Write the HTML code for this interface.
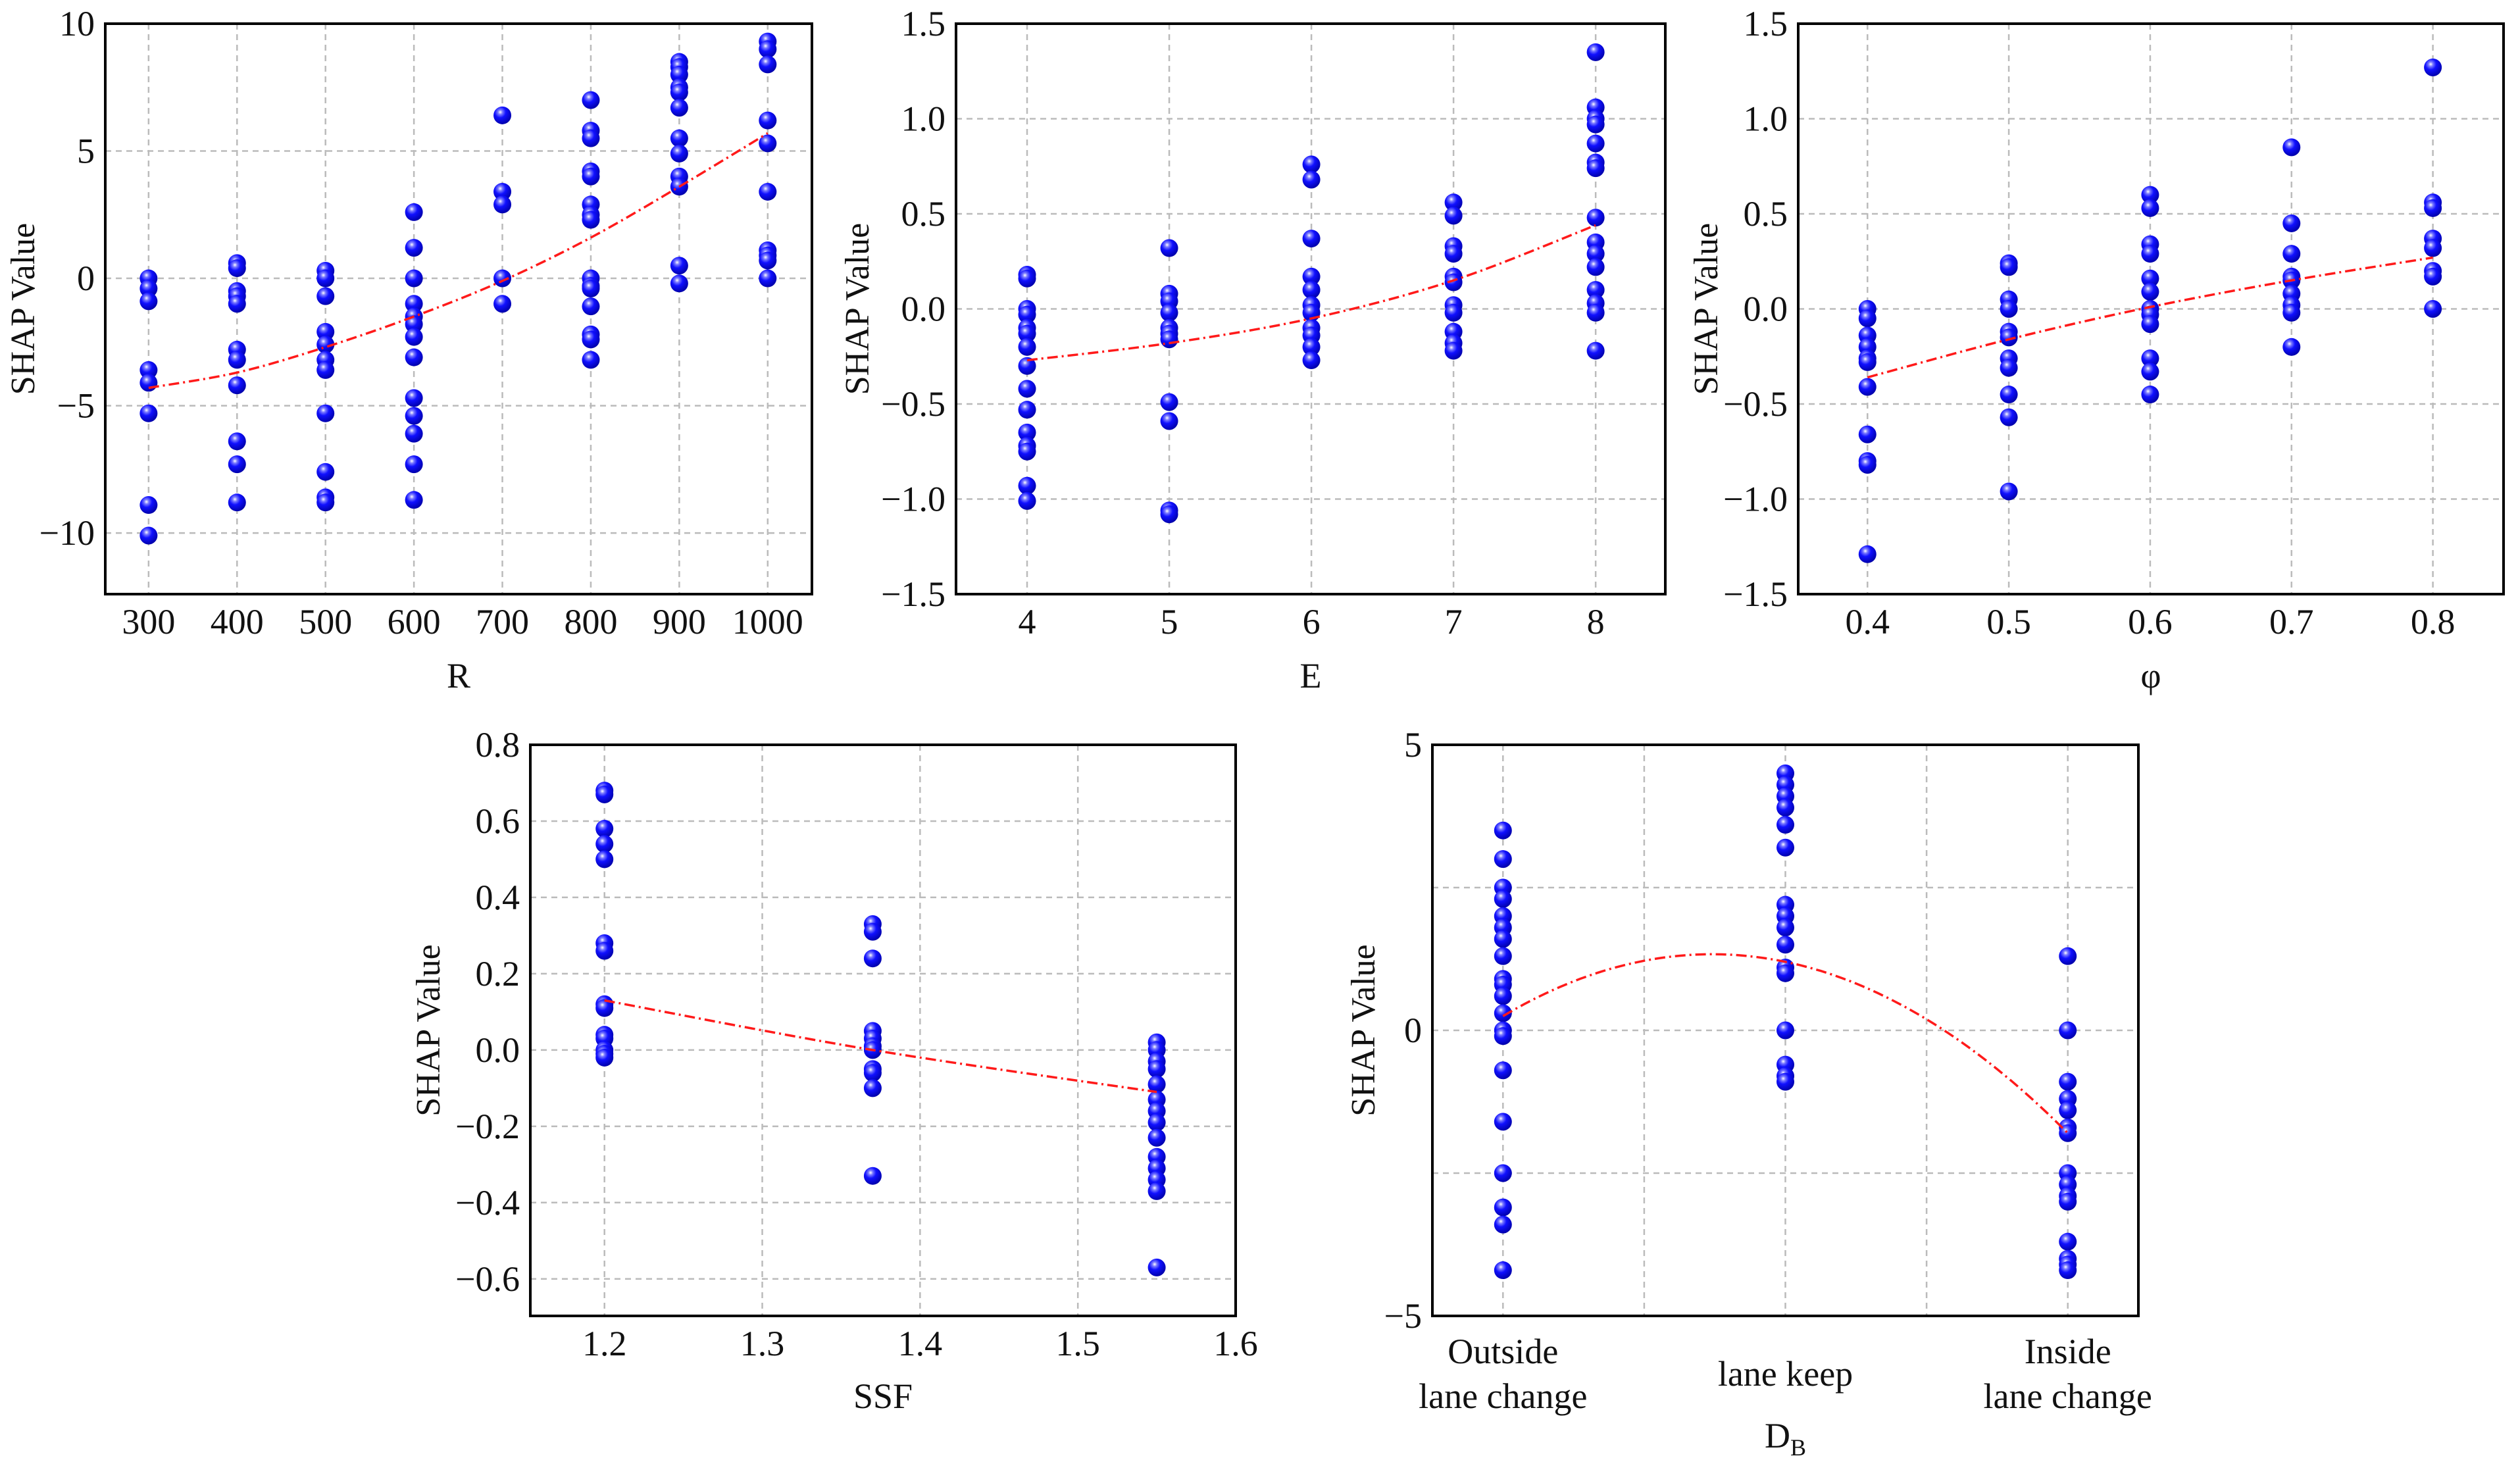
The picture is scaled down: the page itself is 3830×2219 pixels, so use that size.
<!DOCTYPE html>
<html><head><meta charset="utf-8">
<style>
html,body{margin:0;padding:0;background:#fff;}
svg{display:block;}
svg text{font-family:"Liberation Serif","Times New Roman",serif;}
</style></head>
<body>
<svg id="chart" width="3830" height="2219" viewBox="0 0 3830 2219" xmlns="http://www.w3.org/2000/svg" font-family="Liberation Serif, serif">
<defs>
<radialGradient id="ball" cx="0.38" cy="0.32" r="0.7">
<stop offset="0" stop-color="#ffffff"/>
<stop offset="0.18" stop-color="#7a7aff"/>
<stop offset="0.45" stop-color="#1010ff"/>
<stop offset="1" stop-color="#0000a8"/>
</radialGradient>
</defs>
</svg>
<script>
// ---------- Panel R ----------
const rCats = [300,400,500,600,700,800,900,1000];
const rVals = [
 [0,-0.4,-0.9,-3.6,-4.1,-5.3,-8.9,-10.1],
 [0.6,0.4,-0.5,-0.7,-1.0,-2.8,-3.2,-4.2,-6.4,-7.3,-8.8],
 [0.3,0,-0.7,-2.1,-2.6,-3.2,-3.6,-5.3,-7.6,-8.6,-8.8],
 [2.6,1.2,0,-1.0,-1.5,-1.8,-2.3,-3.1,-4.7,-5.4,-6.1,-7.3,-8.7],
 [6.4,3.4,2.9,0,-1.0],
 [7.0,5.8,5.5,4.2,4.0,2.9,2.5,2.3,0,-0.3,-0.4,-1.1,-2.2,-2.4,-3.2],
 [8.5,8.3,8.0,7.5,7.3,6.7,5.5,4.9,4.0,3.6,0.5,-0.2],
 [9.3,9.0,8.4,6.2,5.3,3.4,1.1,0.9,0.7,0]
];
const rTrend = [-4.3,-3.7,-2.7,-1.5,-0.1,1.6,3.6,5.7];
const rXTicks = ["300","400","500","600","700","800","900","1000"];
const rYTicks = ["10","5","0","\u22125","\u221210"];

// ---------- Panel E ----------
const eCats = [4,5,6,7,8];
const eVals = [
 [0.18,0.16,0.0,-0.03,-0.1,-0.13,-0.2,-0.3,-0.42,-0.53,-0.65,-0.72,-0.75,-0.93,-1.01],
 [0.32,0.08,0.04,-0.02,-0.1,-0.13,-0.16,-0.49,-0.59,-1.06,-1.08],
 [0.76,0.68,0.37,0.17,0.1,0.02,-0.02,-0.1,-0.14,-0.2,-0.27],
 [0.56,0.49,0.33,0.29,0.17,0.14,0.02,-0.02,-0.12,-0.18,-0.22],
 [1.35,1.06,1.0,0.97,0.87,0.77,0.74,0.48,0.35,0.29,0.22,0.1,0.03,-0.02,-0.22]
];
const eTrend = [-0.27,-0.18,-0.05,0.15,0.44];
const eXTicks = ["4","5","6","7","8"];
const eYTicks = ["1.5","1.0","0.5","0.0","\u22120.5","\u22121.0","\u22121.5"];

// ---------- Panel phi ----------
const pCats = [0.4,0.5,0.6,0.7,0.8];
const pVals = [
 [0,-0.05,-0.14,-0.2,-0.26,-0.28,-0.41,-0.66,-0.8,-0.82,-1.29],
 [0.24,0.22,0.05,0.0,-0.12,-0.15,-0.26,-0.31,-0.45,-0.57,-0.96],
 [0.6,0.53,0.34,0.29,0.16,0.09,0.0,-0.03,-0.08,-0.26,-0.33,-0.45],
 [0.85,0.45,0.29,0.17,0.15,0.08,0.02,-0.02,-0.2],
 [1.27,0.56,0.53,0.37,0.32,0.2,0.17,0.0]
];
const pTrend = [-0.36,-0.16,0.01,0.15,0.27];
const pXTicks = ["0.4","0.5","0.6","0.7","0.8"];
const pYTicks = eYTicks;

// ---------- Panel SSF ----------
const sCats = [1.2,1.37,1.55];
const sVals = [
 [0.68,0.67,0.58,0.54,0.5,0.28,0.26,0.12,0.11,0.04,0.03,0.0,-0.01,-0.02],
 [0.33,0.31,0.24,0.05,0.03,0.01,0.0,-0.05,-0.06,-0.1,-0.33],
 [0.02,0.0,-0.03,-0.05,-0.09,-0.13,-0.16,-0.19,-0.23,-0.28,-0.31,-0.34,-0.37,-0.57]
];
const sTrend = [0.13,0.0,-0.11];
const sXTicks = ["1.2","1.3","1.4","1.5","1.6"];
const sYTicks = ["0.8","0.6","0.4","0.2","0.0","\u22120.2","\u22120.4","\u22120.6"];

// ---------- Panel DB ----------
const dCats = [0,1,2];
const dVals = [
 [3.5,3.0,2.5,2.3,2.0,1.8,1.6,1.3,0.9,0.8,0.6,0.3,0,-0.1,-0.7,-1.6,-2.5,-3.1,-3.4,-4.2],
 [4.5,4.3,4.1,3.9,3.6,3.2,2.2,2.0,1.8,1.5,1.1,1.0,0,-0.6,-0.8,-0.9],
 [1.3,0,-0.9,-1.2,-1.4,-1.7,-1.8,-2.5,-2.7,-2.9,-3.0,-3.7,-4.0,-4.1,-4.2]
];
const dTrend = [0.25,1.2,-1.8];
const dYTicks = ["5","0","\u22125"];

const svg = document.getElementById('chart');
const NS = 'http://www.w3.org/2000/svg';
function mk(tag, attrs, parent){
  const e = document.createElementNS(NS, tag);
  for (const k in attrs) e.setAttribute(k, attrs[k]);
  (parent||svg).appendChild(e);
  return e;
}
function txt(s, x, y, size, anchor, parent){
  const t = mk('text', {x:x, y:y, 'font-size':size, 'text-anchor':anchor||'middle', fill:'#111', 'font-family':'Liberation Serif, serif'}, parent);
  t.textContent = s;
  return t;
}

function panel(o){
  const g = mk('g', {});
  
  
  const sx = v => o.L + (v - o.x0) / (o.x1 - o.x0) * (o.R - o.L);
  const sy = v => o.B - (v - o.y0) / (o.y1 - o.y0) * (o.B - o.T);
  const grid = mk('g', {stroke:'#bbbbbb', 'stroke-width':2.5, 'stroke-dasharray':'9 7'}, g);
  
  
  o.xGrid.forEach(v => mk('line', {x1:sx(v), x2:sx(v), y1:o.T, y2:o.B}, grid));
  o.yGrid.forEach(v => mk('line', {x1:o.L, x2:o.R, y1:sy(v), y2:sy(v)}, grid));
  const xt = mk('g', {}, g);
  
  
  o.xTickVals.forEach((v,i) => {
    const lab = o.xTickLabels[i];
    if (Array.isArray(lab)) {
      const off = (lab.length === 1) ? 34 : 0;
      lab.forEach((line,j) => txt(line, sx(v), o.B + o.xtOff + off + j*68, 54, 'middle', xt));
    } else txt(lab, sx(v), o.B + o.xtOff, 54, 'middle', xt);
  });
  const yt = mk('g', {}, g);
  
  
  o.yTickVals.forEach((v,i) => txt(o.yTickLabels[i], o.L - 16, sy(v) + 18, 54, 'end', yt));
  const xl = txt(o.xLabel, (o.L+o.R)/2, o.xlY, 54, 'middle', g);
  
  
  if (o.sub) { const s = mk('tspan', {'font-size':36, dy:12}, xl); s.textContent = o.sub; }
  const cy = (o.T+o.B)/2;
  const yl = txt('SHAP Value', o.ylX, cy, 52, 'middle', g);
  yl.setAttribute('transform', `rotate(-90 ${o.ylX} ${cy})`);
  
  
  const pts = mk('g', {}, g);
  
  
  o.cats.forEach((c,i) => o.vals[i].forEach(v => {
    const p = mk('circle', {cx:sx(c), cy:sy(v), r:13.5, fill:'url(#ball)'}, pts);
    
    
  }));
  let d = '';
  if (o.quad) {
    const [f0,f1,f2] = o.trend;
    const c0 = f0, a = (f2 - 2*f1 + f0)/2, b = f1 - f0 - a;
    for (let k=0;k<=80;k++){ const x = o.cats[0] + (o.cats[2]-o.cats[0])*k/80; d += (k?'L':'M') + sx(x).toFixed(1) + ' ' + sy(a*x*x+b*x+c0).toFixed(1); }
  } else {
    const P = o.cats.map((c,i)=>[sx(c), sy(o.trend[i])]);
    d = 'M' + P[0][0] + ' ' + P[0][1];
    for (let i=0;i<P.length-1;i++){
      const p0 = P[Math.max(0,i-1)], p1 = P[i], p2 = P[i+1], p3 = P[Math.min(P.length-1,i+2)];
      d += ` C${p1[0]+(p2[0]-p0[0])/6} ${p1[1]+(p2[1]-p0[1])/6} ${p2[0]-(p3[0]-p1[0])/6} ${p2[1]-(p3[1]-p1[1])/6} ${p2[0]} ${p2[1]}`;
    }
  }
  const tr = mk('path', {d:d, fill:'none', stroke:'#ff1a1a', 'stroke-width':3.5, 'stroke-dasharray':'16 6 3 6'}, g);
  
  
  const fr = mk('rect', {x:o.L, y:o.T, width:o.R-o.L, height:o.B-o.T, fill:'none', stroke:'#000', 'stroke-width':4}, g);
  
  
}

const num = a => a.map(s => parseFloat(s.replace('\u2212','-')));

panel({name:'panel-r', L:160, R:1234, T:36, B:903, x0:251, x1:1050, y0:-12.4, y1:10,
  cats:rCats, vals:rVals, trend:rTrend, xGrid:rCats, yGrid:num(rYTicks),
  xTickVals:rCats, xTickLabels:rXTicks, yTickVals:num(rYTicks), yTickLabels:rYTicks,
  xtOff:60, xLabel:'R', xlY:1045, ylX:52});
panel({name:'panel-e', L:1453, R:2531, T:36, B:903, x0:3.5, x1:8.49, y0:-1.5, y1:1.5,
  cats:eCats, vals:eVals, trend:eTrend, xGrid:eCats, yGrid:num(eYTicks),
  xTickVals:eCats, xTickLabels:eXTicks, yTickVals:num(eYTicks), yTickLabels:eYTicks,
  xtOff:60, xLabel:'E', xlY:1045, ylX:1320});
panel({name:'panel-phi', L:2733, R:3805, T:36, B:903, x0:0.351, x1:0.85, y0:-1.5, y1:1.5,
  cats:pCats, vals:pVals, trend:pTrend, xGrid:pCats, yGrid:num(pYTicks),
  xTickVals:pCats, xTickLabels:pXTicks, yTickVals:num(pYTicks), yTickLabels:pYTicks,
  xtOff:60, xLabel:'\u03c6', xlY:1045, ylX:2610});
panel({name:'panel-ssf', L:806, R:1878, T:1132, B:2000, x0:1.153, x1:1.6, y0:-0.697, y1:0.8,
  cats:sCats, vals:sVals, trend:sTrend, xGrid:num(sXTicks), yGrid:num(sYTicks),
  xTickVals:num(sXTicks), xTickLabels:sXTicks, yTickVals:num(sYTicks), yTickLabels:sYTicks,
  xtOff:60, xLabel:'SSF', xlY:2140, ylX:668});
panel({name:'panel-db', L:2177, R:3250, T:1132, B:2000, x0:-0.25, x1:2.25, y0:-5, y1:5, quad:true,
  cats:dCats, vals:dVals, trend:dTrend, xGrid:[0,0.5,1,1.5,2], yGrid:[2.5,0,-2.5],
  xTickVals:dCats, xTickLabels:[['Outside','lane change'],['lane keep'],['Inside','lane change']],
  yTickVals:num(dYTicks), yTickLabels:dYTicks,
  xtOff:72, xLabel:'D', sub:'B', xlY:2200, ylX:2089});
</script>
</body></html>
